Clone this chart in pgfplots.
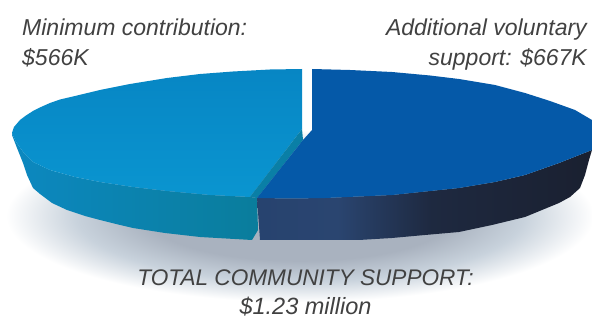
\documentclass[border=0pt]{standalone}
\usepackage{fontspec}
\setmainfont{Liberation Sans}
\usepackage{pgfplots}
\pgfplotsset{compat=1.18}
\definecolor{labelgrey}{HTML}{414141}
\definecolor{faceleft}{HTML}{0A95D0}
\definecolor{faceleftup}{HTML}{0786C4}
\definecolor{faceright}{HTML}{0559A8}
\definecolor{cutface}{HTML}{0A7FA6}
\definecolor{rimleftA}{HTML}{0C88C0}
\definecolor{rimleftB}{HTML}{0A7D9C}
\definecolor{shadowA}{HTML}{A9B2BF}
\definecolor{shadowB}{HTML}{C8D2DC}
\definecolor{rimA}{HTML}{27436F}
\definecolor{rimB}{HTML}{2A4570}
\definecolor{rimC}{HTML}{1E2940}
\definecolor{rimD}{HTML}{1A2030}
\pgfdeclareradialshading{groundshadow}{\pgfpoint{0bp}{0bp}}{
  color(0bp)=(shadowA);
  color(13bp)=(shadowA);
  color(19bp)=(shadowB);
  color(25bp)=(white);
  color(50bp)=(white)}
\pgfdeclarehorizontalshading{darkrim}{100bp}{
  color(0bp)=(rimA);
  color(25bp)=(rimA);
  color(37bp)=(rimB);
  color(51bp)=(rimC);
  color(75bp)=(rimD);
  color(100bp)=(rimD)}
\begin{document}
\begin{tikzpicture}
\begin{axis}[
  scale only axis, width=592pt, height=320pt,
  xmin=0, xmax=592, ymin=0, ymax=320, y dir=reverse,
  hide axis, clip mode=individual]

% soft shadow under the disc
\addplot[draw=none, shading=groundshadow] coordinates {
  (6,130) (594,130) (594,302) (6,302)} -- cycle;

% rim of the smaller slice
\addplot[draw=none, shade, left color=rimleftA, right color=rimleftB] coordinates {
  (12,133) (16,142) (24,153) (33,162) (50,170) (75,177) (100,182) (133,187)
  (167,191) (210,195) (250,197) (257,198) (258,230) (252,240) (200,237)
  (165,233) (133,228) (116,224) (100,220) (85,216) (67,210) (52,203) (40,194)
  (33,188) (27,175) (23,163) (17,148) (12,135)} -- cycle;

% rim of the larger slice
\addplot[draw=none, shading=darkrim] coordinates {
  (257,198) (292,198.5) (325,198) (392,195) (459,188) (495,182) (525,175) (559,163)
  (592,150) (589,160) (585,175) (580,188) (570,197) (559,203) (525,217) (492,225) (459,232)
  (425,235) (392,238) (359,240) (292,240) (260,240)} -- cycle;

% top face, minimum contribution 566
\addplot[draw=none, shade, top color=faceleftup, bottom color=faceleft] coordinates {
  (302,69) (270,69.5) (233,71.5) (200,74) (167,78) (130,84) (100,90) (75,96)
  (60,99.5) (50,103) (41,107) (33,111) (26,115.5) (20,120) (14,127) (12,133) (16,142) (24,153) (33,162)
  (50,170) (75,177) (100,182) (133,187) (167,191) (210,195) (250,197)
  (302,129)} -- cycle;

% visible cut between the slices
\addplot[draw=none, fill=cutface] coordinates {
  (250,197) (257,198) (303,140) (302,129)} -- cycle;

% top face, additional voluntary support 667
\addplot[draw=none, fill=faceright] coordinates {
  (312,69) (350,70) (392,72) (430,75.5) (459,79) (495,85) (525,93) (550,101)
  (575,110) (592,120) (592,150) (559,163) (525,175) (495,182) (459,188) (392,195)
  (325,198) (292,198.5) (257,198) (303,140) (312,130)} -- cycle;

\node[anchor=base west, font=\fontsize{23}{23}\selectfont\itshape, text=labelgrey, inner sep=0pt]
  at (axis cs:22,36) {Minimum contribution:};
\node[anchor=base west, font=\fontsize{23}{23}\selectfont\itshape, text=labelgrey, inner sep=0pt]
  at (axis cs:22,66) {\$566K};
\node[anchor=base east, font=\fontsize{23}{23}\selectfont\itshape, text=labelgrey, inner sep=0pt]
  at (axis cs:587,36) {Additional voluntary};
\node[anchor=base east, font=\fontsize{23}{23}\selectfont\itshape, text=labelgrey, inner sep=0pt]
  at (axis cs:587,66) {support: \$667K};
\node[anchor=base, font=\fontsize{22.6}{23}\selectfont\itshape, text=labelgrey, inner sep=0pt]
  at (axis cs:305.5,286) {TOTAL COMMUNITY SUPPORT:};
\node[anchor=base, font=\fontsize{23.5}{24}\selectfont\itshape, text=labelgrey, inner sep=0pt]
  at (axis cs:305.5,314.5) {\$1.23 million};
\end{axis}
\path (0,0) rectangle (592pt,320pt);
\end{tikzpicture}
\end{document}
